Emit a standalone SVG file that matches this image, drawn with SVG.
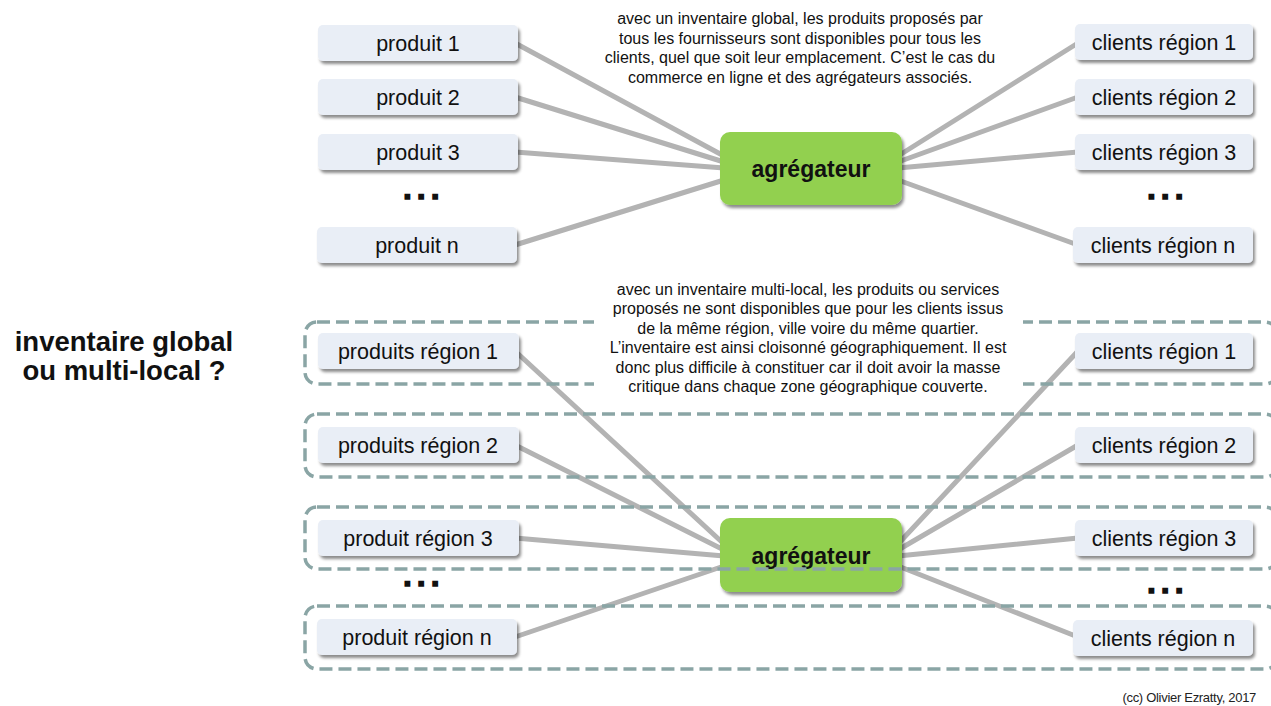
<svg xmlns="http://www.w3.org/2000/svg" width="1271" height="706" viewBox="0 0 1271 706">
  <defs>
    <filter id="shadow" x="-10%" y="-20%" width="125%" height="160%">
      <feDropShadow dx="2" dy="3" stdDeviation="1.6" flood-color="#000" flood-opacity="0.45"/>
    </filter>
    <style>
      .node rect { fill: #e9eef6; filter: url(#shadow); }
      .node text { font-family: "Liberation Sans", Arial, sans-serif; font-size: 21.5px; fill: #111; text-anchor: middle; }
      .hub rect { fill: #92d050; filter: url(#shadow); }
      .hub text { font-family: "Liberation Sans", Arial, sans-serif; font-size: 23px; font-weight: bold; fill: #111; text-anchor: middle; }
      .link { stroke: #b3b3b3; stroke-width: 5; fill: none; stroke-linecap: round; }
      .zone { fill: none; stroke: #8aa5a5; stroke-width: 3.5; stroke-dasharray: 13 6; }
      .note { font-family: "Liberation Sans", Arial, sans-serif; font-size: 16px; fill: #111; text-anchor: middle; }
      .dots { font-family: "Liberation Sans", Arial, sans-serif; font-size: 30px; font-weight: bold; fill: #111; stroke: #111; stroke-width: 1.6; letter-spacing: 5.5px; text-anchor: middle; }
      .title { font-family: "Liberation Sans", Arial, sans-serif; font-size: 27.5px; font-weight: bold; fill: #111; text-anchor: middle; }
    </style>
  </defs>

  <rect width="1271" height="706" fill="#fff"/>

  <!-- connectors -->
  <g id="connectors">
    <!-- global inventory -->
    <line class="link" x1="515" y1="43" x2="724" y2="156"/>
    <line class="link" x1="515" y1="97" x2="724" y2="162"/>
    <line class="link" x1="515" y1="152" x2="724" y2="168"/>
    <line class="link" x1="515" y1="245" x2="724" y2="180"/>
    <line class="link" x1="1078" y1="43" x2="898" y2="156"/>
    <line class="link" x1="1078" y1="97" x2="898" y2="162"/>
    <line class="link" x1="1078" y1="152" x2="898" y2="168"/>
    <line class="link" x1="1078" y1="245" x2="898" y2="180"/>
    <!-- multi-local inventory -->
    <line class="link" x1="515" y1="351" x2="724" y2="544"/>
    <line class="link" x1="515" y1="445" x2="724" y2="550"/>
    <line class="link" x1="515" y1="538" x2="724" y2="556"/>
    <line class="link" x1="515" y1="637" x2="724" y2="566"/>
    <line class="link" x1="1078" y1="351" x2="898" y2="544"/>
    <line class="link" x1="1078" y1="445" x2="898" y2="550"/>
    <line class="link" x1="1078" y1="538" x2="898" y2="556"/>
    <line class="link" x1="1078" y1="637" x2="898" y2="566"/>
  </g>

  <!-- global inventory nodes -->
  <g id="p1" class="node"><rect x="318" y="25" width="200" height="36" rx="5"/><text x="418" y="50.5">produit 1</text></g>
  <g id="p2" class="node"><rect x="318" y="79" width="200" height="36" rx="5"/><text x="418" y="104.5">produit 2</text></g>
  <g id="p3" class="node"><rect x="318" y="134" width="200" height="36" rx="5"/><text x="418" y="159.5">produit 3</text></g>
  <g id="pdots"><text class="dots" x="424" y="199">...</text></g>
  <g id="pn" class="node"><rect x="317" y="227" width="200" height="36" rx="5"/><text x="417" y="252.5">produit n</text></g>

  <g id="c1" class="node"><rect x="1075" y="24" width="178" height="36" rx="5"/><text x="1164" y="49.5">clients région 1</text></g>
  <g id="c2" class="node"><rect x="1075" y="79" width="178" height="36" rx="5"/><text x="1164" y="104.5">clients région 2</text></g>
  <g id="c3" class="node"><rect x="1075" y="134" width="178" height="36" rx="5"/><text x="1164" y="159.5">clients région 3</text></g>
  <g id="cdots"><text class="dots" x="1168" y="199">...</text></g>
  <g id="cn" class="node"><rect x="1073" y="227" width="180" height="36" rx="5"/><text x="1163" y="252.5">clients région n</text></g>

  <g id="hub1" class="hub"><rect x="720" y="132" width="182" height="73" rx="10"/><text x="811" y="177">agrégateur</text></g>

  <g id="note1">
    <text class="note" x="800" y="24">avec un inventaire global,  les produits proposés par</text>
    <text class="note" x="800" y="44">tous les fournisseurs sont disponibles pour tous les</text>
    <text class="note" x="800" y="63">clients, quel que soit leur emplacement.  C’est le cas du</text>
    <text class="note" x="800" y="83">commerce en ligne et des agrégateurs associés.</text>
  </g>

  <!-- multi-local inventory nodes -->
  <g id="hub2" class="hub"><rect x="720" y="518" width="182" height="74" rx="10"/><text x="811" y="564">agrégateur</text></g>

  <g id="zones">
    <rect class="zone" x="305" y="322" width="972" height="62" rx="12"/>
    <rect class="zone" x="305" y="414" width="972" height="63" rx="12"/>
    <rect class="zone" x="305" y="507" width="972" height="62" rx="12"/>
    <rect class="zone" x="305" y="606" width="972" height="63" rx="12"/>
  </g>

  <g id="pr1" class="node"><rect x="318" y="333" width="201" height="36" rx="5"/><text x="418" y="358.5">produits région 1</text></g>
  <g id="pr2" class="node"><rect x="318" y="427" width="201" height="36" rx="5"/><text x="418" y="452.5">produits région 2</text></g>
  <g id="pr3" class="node"><rect x="318" y="520" width="201" height="36" rx="5"/><text x="418" y="545.5">produit région 3</text></g>
  <g id="prdots"><text class="dots" x="424" y="586">...</text></g>
  <g id="prn" class="node"><rect x="317" y="619" width="200" height="36" rx="5"/><text x="417" y="644.5">produit région n</text></g>

  <g id="cr1" class="node"><rect x="1075" y="333" width="178" height="36" rx="5"/><text x="1164" y="358.5">clients région 1</text></g>
  <g id="cr2" class="node"><rect x="1075" y="427" width="178" height="36" rx="5"/><text x="1164" y="452.5">clients région 2</text></g>
  <g id="cr3" class="node"><rect x="1075" y="520" width="178" height="36" rx="5"/><text x="1164" y="545.5">clients région 3</text></g>
  <g id="crdots"><text class="dots" x="1168" y="593">...</text></g>
  <g id="crn" class="node"><rect x="1073" y="620" width="180" height="36" rx="5"/><text x="1163" y="645.5">clients région n</text></g>

  <g id="note2">
    <rect x="594" y="279" width="429" height="114" fill="#fff"/>
    <text class="note" x="808" y="295">avec un inventaire multi-local,  les produits ou services</text>
    <text class="note" x="808" y="314">proposés ne sont disponibles que pour les clients issus</text>
    <text class="note" x="808" y="334">de la même  région, ville voire du même  quartier.</text>
    <text class="note" x="808" y="353">L’inventaire est ainsi cloisonné géographiquement.  Il est</text>
    <text class="note" x="808" y="373">donc plus difficile à constituer car il doit avoir la masse</text>
    <text class="note" x="808" y="392">critique dans chaque zone géographique couverte.</text>
  </g>

  <g id="title">
    <text class="title" x="124" y="351">inventaire global</text>
    <text class="title" x="124" y="380">ou multi-local ?</text>
  </g>

  <text x="1256" y="702" font-family="Liberation Sans, Arial, sans-serif" font-size="13px" fill="#222" text-anchor="end" letter-spacing="-0.3">(cc) Olivier Ezratty, 2017</text>
</svg>
